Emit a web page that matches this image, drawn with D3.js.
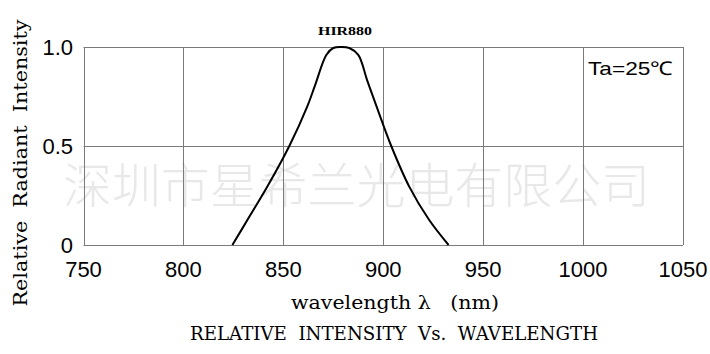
<!DOCTYPE html>
<html lang="en">
<head>
    <meta charset="UTF-8">
    <title>Relative intensity vs wavelength</title>
    <style>
        body { margin: 0; background: #fff; }
        .tick_label { font-family: "Liberation Sans", Arial, sans-serif; font-size: 22px; fill: #000; }
        .serif_text { font-family: "DejaVu Serif", serif; fill: #000; white-space: pre; }
    </style>
    <script src="https://d3js.org/d3.v7.min.js"></script>
</head>
<body>
<svg id="chart" width="710" height="354"></svg>

<script>
    // spectrum
    const wavelength = [824.5, 832, 842, 853, 862, 866, 871.5, 875, 879, 883, 887.5, 892, 897, 904, 913, 923, 932.7];
    const intensity  = [0, 0.126, 0.295, 0.50, 0.70, 0.81, 0.96, 0.995, 1.0, 0.995, 0.96, 0.83, 0.69, 0.50, 0.295, 0.126, 0];
    const xTicks = [750, 800, 850, 900, 950, 1000, 1050];
    const yTicks = [0, 0.5, 1.0];
    const yTickLabels = ["0", "0.5", "1.0"];
    const watermark = "深圳市星希兰光电有限公司";

    const svg = d3.select("#chart");
    const plotLeft = 83.5, plotRight = 683, plotTop = 47, plotBottom = 245;

    const x = d3.scaleLinear().domain([750, 1050]).range([plotLeft, plotRight]);
    const y = d3.scaleLinear().domain([0, 1]).range([plotBottom, plotTop]);

    // watermark behind everything
    svg.append("text")
        .attr("x", 63).attr("y", 203)
        .attr("textLength", 587).attr("lengthAdjust", "spacingAndGlyphs")
        .style("font-family", "'Noto Sans CJK SC', sans-serif")
        .style("font-size", "48px")
        .style("font-weight", 300)
        .style("fill", "#e8e8e8")
        .text(watermark);

    // grid
    const grid = svg.append("g").attr("stroke", "#7a7a7a").attr("stroke-width", 1);
    xTicks.forEach(function (t) {
        grid.append("line")
            .attr("x1", Math.round(x(t)) + 0.5).attr("x2", Math.round(x(t)) + 0.5)
            .attr("y1", plotTop).attr("y2", plotBottom);
    });
    yTicks.forEach(function (t) {
        grid.append("line")
            .attr("x1", plotLeft).attr("x2", plotRight)
            .attr("y1", Math.round(y(t)) + 0.5).attr("y2", Math.round(y(t)) + 0.5);
    });

    // x tick labels
    svg.selectAll(".xlab").data(xTicks).enter().append("text")
        .attr("class", "tick_label")
        .attr("x", function (d) { return x(d); })
        .attr("y", 277)
        .attr("text-anchor", "middle")
        .text(function (d) { return d; });

    // y tick labels
    svg.selectAll(".ylab").data(yTicks).enter().append("text")
        .attr("class", "tick_label")
        .attr("x", 73)
        .attr("y", function (d) { return y(d) + 8; })
        .attr("text-anchor", "end")
        .text(function (d, i) { return yTickLabels[i]; });

    // curve
    const line = d3.line()
        .x(function (d, i) { return x(wavelength[i]); })
        .y(function (d) { return y(d); })
        .curve(d3.curveCatmullRom.alpha(0.5));

    svg.append("path")
        .datum(intensity)
        .attr("fill", "none")
        .attr("stroke", "#000")
        .attr("stroke-width", 2)
        .attr("d", line);

    // labels
    svg.append("text")
        .attr("x", 345).attr("y", 35).attr("text-anchor", "middle")
        .attr("textLength", 54).attr("lengthAdjust", "spacingAndGlyphs")
        .style("font-family", "'Liberation Serif', serif")
        .style("font-weight", "bold")
        .style("font-size", "13px")
        .text("HIR880");

    svg.append("text").attr("class", "tick_label")
        .attr("x", 588).attr("y", 75)
        .attr("textLength", 85).attr("lengthAdjust", "spacingAndGlyphs")
        .style("font-size", "19px")
        .text("Ta=25℃");

    svg.append("text").attr("class", "serif_text")
        .attr("transform", "translate(27,163) rotate(-90)")
        .attr("text-anchor", "middle")
        .attr("textLength", 287).attr("lengthAdjust", "spacingAndGlyphs")
        .style("font-size", "18px")
        .text("Relative  Radiant  Intensity");

    svg.append("text").attr("class", "serif_text")
        .attr("x", 291).attr("y", 309)
        .attr("textLength", 208).attr("lengthAdjust", "spacingAndGlyphs")
        .style("font-size", "18px")
        .text("wavelength λ   (nm)");

    svg.append("text").attr("class", "serif_text")
        .attr("x", 190).attr("y", 340)
        .attr("textLength", 408).attr("lengthAdjust", "spacingAndGlyphs")
        .style("font-size", "19px")
        .text("RELATIVE  INTENSITY  Vs.  WAVELENGTH");
</script>
</body>
</html>
